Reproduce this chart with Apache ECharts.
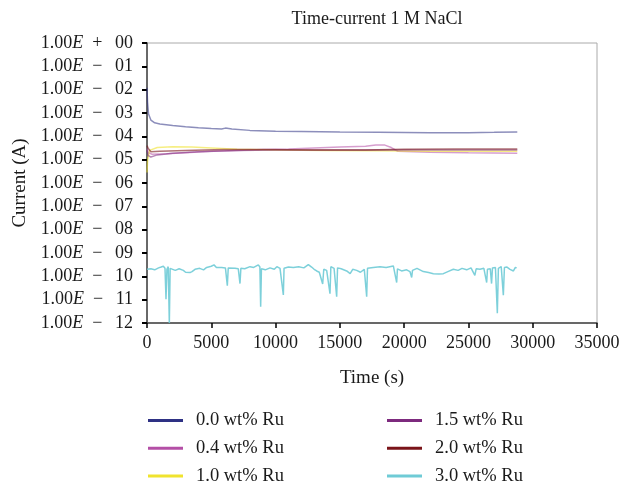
<!DOCTYPE html>
<html>
<head>
<meta charset="utf-8">
<script src="https://cdn.jsdelivr.net/npm/echarts@6/dist/echarts.min.js"></script>
<style>html,body{margin:0;padding:0;background:#fff;}#c{width:623px;height:484px;}</style>
</head>
<body>
<div id="c"></div>
<script>
const seriesNames = ['0.0 wt% Ru','0.4 wt% Ru','1.0 wt% Ru','1.5 wt% Ru','2.0 wt% Ru','3.0 wt% Ru'];
const seriesColors = ['#2e3184','#b44fa6','#f0e32e','#7d2a7e','#7a1419','#6fcbd6'];
const xTicks = [0,5000,10000,15000,20000,25000,30000,35000];

const ru00 = [[0,1.2e-2],[40,3e-3],[120,9e-4],[300,5e-4],[600,3.8e-4],[1000,3.4e-4],[2000,2.9e-4],[3000,2.6e-4],[4000,2.35e-4],[5000,2.15e-4],[5800,2.05e-4],[6100,2.25e-4],[6600,2.05e-4],[8000,1.8e-4],[10000,1.65e-4],[12000,1.6e-4],[15000,1.52e-4],[18000,1.48e-4],[20000,1.45e-4],[22000,1.42e-4],[25000,1.43e-4],[27000,1.48e-4],[28800,1.55e-4]];
const ru04 = [[0,3.0e-5],[100,2.0e-5],[400,1.7e-5],[1500,1.8e-5],[3000,2.0e-5],[5000,2.3e-5],[7000,2.5e-5],[9000,2.7e-5],[11000,2.9e-5],[13000,3.2e-5],[15000,3.5e-5],[17000,3.8e-5],[17800,4.3e-5],[18500,4.2e-5],[19000,3.3e-5],[19500,2.3e-5],[22000,2.1e-5],[25000,2.0e-5],[28800,1.9e-5]];
const ru10 = [[0,2.8e-6],[50,1e-5],[200,2.5e-5],[800,3.3e-5],[2000,3.6e-5],[3500,3.5e-5],[5000,3.2e-5],[7000,2.8e-5],[10000,2.6e-5],[14000,2.5e-5],[18000,2.4e-5],[22000,2.3e-5],[26000,2.3e-5],[28800,2.3e-5]];
const ru15 = [[0,2.5e-5],[100,1.5e-5],[300,1.3e-5],[800,1.6e-5],[2000,1.9e-5],[4000,2.2e-5],[7000,2.5e-5],[10000,2.6e-5],[15000,2.6e-5],[20000,2.6e-5],[25000,2.6e-5],[28800,2.6e-5]];
const ru20 = [[0,4e-5],[100,3e-5],[300,2.2e-5],[1000,2.3e-5],[3000,2.5e-5],[6000,2.7e-5],[9000,2.7e-5],[13000,2.6e-5],[17000,2.6e-5],[20000,2.8e-5],[24000,2.9e-5],[28800,2.9e-5]];
const ru30 = [[0,2.0e-10],[300,2.1e-10],[600,1.9e-10],[900,2.3e-10],[1100,2.5e-10],[1270,2.7e-10],[1400,2.2e-10],[1478,1.05e-11],[1550,2.0e-10],[1650,2.6e-10],[1737,1e-12],[1800,2.2e-10],[1919,2.0e-10],[2200,1.8e-10],[2500,2.1e-10],[2826,1.8e-10],[3000,1.5e-10],[3344,1.45e-10],[3500,1.6e-10],[3733,2.0e-10],[4100,2.2e-10],[4400,1.9e-10],[4641,2.4e-10],[5000,2.7e-10],[5211,3.1e-10],[5400,2.4e-10],[5807,2.4e-10],[6100,2.3e-10],[6248,4.0e-11],[6320,2.3e-10],[6844,2.2e-10],[7100,2.1e-10],[7233,4.9e-11],[7300,2.2e-10],[7600,2.1e-10],[8011,2.6e-10],[8300,2.4e-10],[8659,3.1e-10],[8780,2.5e-10],[8841,5e-12],[8900,2.1e-10],[9200,1.9e-10],[9567,2.3e-10],[9900,2.0e-10],[10100,2.6e-10],[10345,2.2e-10],[10604,1.6e-11],[10660,2.2e-10],[11000,2.5e-10],[11382,2.4e-10],[11800,2.6e-10],[12200,2.3e-10],[12548,3.2e-10],[12800,2.5e-10],[13000,2.0e-10],[13197,1.7e-10],[13400,1.5e-10],[13663,4.7e-11],[13750,2.0e-10],[13974,1.8e-10],[14233,1.8e-11],[14300,2.6e-10],[14363,3.1e-10],[14550,2.2e-10],[14752,1.35e-11],[14820,2.3e-10],[15100,2.1e-10],[15530,1.7e-10],[15800,1.3e-10],[16000,2.0e-10],[16308,1.8e-10],[16600,1.5e-10],[16900,2.0e-10],[17086,1.35e-11],[17150,2.2e-10],[17600,2.4e-10],[18122,2.6e-10],[18600,2.4e-10],[19160,2.8e-10],[19300,2.3e-10],[19419,5.4e-11],[19480,2.1e-10],[19800,1.7e-10],[20197,1.9e-10],[20450,1.6e-10],[20586,8.9e-11],[20650,1.8e-10],[21000,2.2e-10],[21493,1.6e-10],[21900,1.45e-10],[22271,1.3e-10],[22700,1.25e-10],[23049,1.3e-10],[23400,1.6e-10],[23827,2.0e-10],[24200,1.8e-10],[24500,2.2e-10],[24864,1.9e-10],[25200,2.3e-10],[25500,1.1e-10],[25600,2.1e-10],[25901,2.0e-10],[26200,2.2e-10],[26419,5.4e-11],[26480,2.0e-10],[26700,2.1e-10],[26800,4.9e-11],[26870,2.3e-10],[26937,2.6e-10],[27100,2.4e-10],[27248,2.6e-12],[27330,2.2e-10],[27550,2.6e-10],[27715,1.55e-11],[27800,2.4e-10],[28000,2.5e-10],[28233,2.0e-10],[28500,1.7e-10],[28650,2.4e-10],[28752,2.3e-10]];

const allData = [ru00, ru04, ru10, ru15, ru20, ru30];
const lineOpacity = [0.55, 0.55, 0.6, 0.55, 0.6, 0.9];
const FONT = 'Liberation Serif';

function yLabel(v) {
  const e = Math.round(Math.log10(v));
  const sign = e < 0 ? '\u2212' : '+';
  const n = String(Math.abs(e)).padStart(2, '0');
  return '1.00{e|E}\u2002' + sign + '\u2002\u2009' + n;
}

const chart = echarts.init(document.getElementById('c'), null, {renderer: 'canvas'});
const series = allData.map((d, i) => ({
  name: seriesNames[i],
  type: 'line',
  data: d,
  showSymbol: false,
  symbol: 'none',
  color: seriesColors[i],
  itemStyle: {color: seriesColors[i]},
  lineStyle: {color: seriesColors[i], width: 1.5, opacity: lineOpacity[i]},
  animation: false,
  z: 2
}));

const legendCommon = {
  type: 'plain',
  orient: 'vertical',
  icon: 'rect',
  itemWidth: 35,
  itemHeight: 3,
  itemGap: 8.7,
  height: 200,
  padding: 0,
  textStyle: {fontFamily: FONT, fontSize: 18.5, lineHeight: 18, color: '#1a1a1a', padding: [0,0,0,8]},
  selectedMode: false
};

chart.setOption({
  backgroundColor: '#fff',
  animation: false,
  title: {
    text: 'Time-current 1 M NaCl',
    left: 372, top: 5, textAlign: 'center',
    textStyle: {fontFamily: FONT, fontSize: 18, fontWeight: 'normal', color: '#1a1a1a'}
  },
  grid: {left: 147, right: 26, top: 43, bottom: 161, show: true, borderColor: '#aaa', borderWidth: 1},
  legend: [
    Object.assign({}, legendCommon, {left: 148, top: 411, data: seriesNames.slice(0,3)}),
    Object.assign({}, legendCommon, {left: 387, top: 411, data: seriesNames.slice(3)})
  ],
  xAxis: {
    type: 'value', min: xTicks[0], max: xTicks[xTicks.length-1], interval: 5000,
    name: 'Time (s)', nameLocation: 'middle', nameGap: 46,
    nameTextStyle: {fontFamily: FONT, fontSize: 19, color: '#1a1a1a'},
    axisLine: {lineStyle: {color: '#444', width: 1.5}},
    axisTick: {show: true, length: 5, lineStyle: {color: '#000', width: 1.5}},
    axisLabel: {fontFamily: FONT, fontSize: 18, color: '#1a1a1a', margin: 11, formatter: v => String(v)},
    splitLine: {show: false}
  },
  yAxis: {
    type: 'log', logBase: 10, min: 1e-12, max: 1, interval: 1,
    name: 'Current (A)', nameLocation: 'middle', nameGap: 117,
    nameTextStyle: {fontFamily: FONT, fontSize: 19, color: '#1a1a1a'},
    axisLine: {show: true, lineStyle: {color: '#444', width: 1.5}},
    axisTick: {show: true, length: 5, lineStyle: {color: '#000', width: 2}},
    axisLabel: {
      fontFamily: FONT, fontSize: 18, color: '#1a1a1a', margin: 14,
      formatter: yLabel,
      rich: {e: {fontFamily: FONT, fontSize: 18, fontStyle: 'italic', color: '#1a1a1a'}}
    },
    splitLine: {show: false}
  },
  series: series
});
</script>
</body>
</html>
